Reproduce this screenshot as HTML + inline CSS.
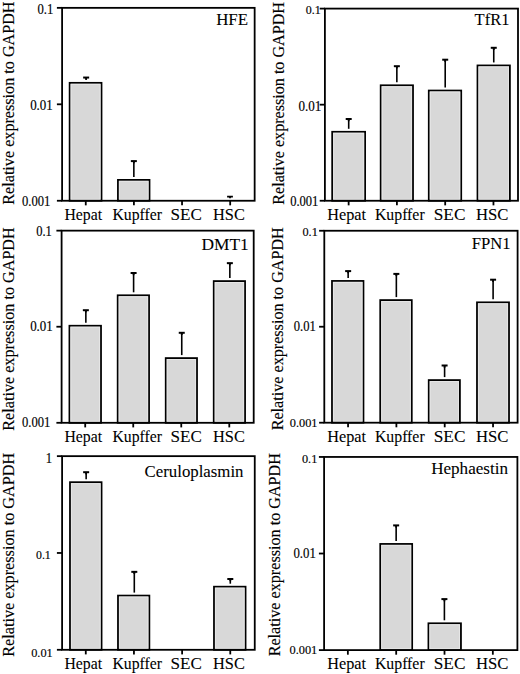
<!DOCTYPE html>
<html><head><meta charset="utf-8"><style>
html,body{margin:0;padding:0;background:#fff;}
svg{display:block;}
text{font-family:'Liberation Serif', serif;fill:#000;stroke:#000;stroke-width:0.08px;}
text.tk{stroke-width:0.15px;}
text.yl{stroke-width:0.15px;}
</style></head><body>
<svg width="520" height="674" viewBox="0 0 520 674">
<rect width="520" height="674" fill="#fff"/>
<rect x="69.65" y="82.85" width="31.85" height="117.90" fill="#d8d8d8" stroke="#000" stroke-width="1.8"/>
<rect x="71.10" y="84.30" width="28.95" height="115.00" fill="none" stroke="#e6e6e6" stroke-width="1"/>
<path d="M86.15 79.85V77.55" stroke="#000" stroke-width="1.6" fill="none"/>
<path d="M83.15 77.55H89.15" stroke="#000" stroke-width="2.0" fill="none"/>
<path d="M86.15 77.55V79.75" stroke="#000" stroke-width="1.8" fill="none"/>
<rect x="117.95" y="179.9" width="31.55" height="20.85" fill="#d8d8d8" stroke="#000" stroke-width="1.8"/>
<rect x="119.40" y="181.35" width="28.65" height="17.95" fill="none" stroke="#e6e6e6" stroke-width="1"/>
<path d="M133.85 176.90V161.1" stroke="#000" stroke-width="1.6" fill="none"/>
<path d="M130.85 161.1H136.85" stroke="#000" stroke-width="2.0" fill="none"/>
<path d="M133.85 161.1V163.30" stroke="#000" stroke-width="1.8" fill="none"/>
<path d="M230.0 198.20V196.6M227.10 196.6H232.90" stroke="#000" stroke-width="1.8" fill="none"/>
<rect x="62.1" y="7.85" width="192.55" height="192.90" fill="none" stroke="#000" stroke-width="1.8"/>
<path d="M56.90 7.85H62.1" stroke="#000" stroke-width="1.8"/>
<path d="M56.90 104.30H62.1" stroke="#000" stroke-width="1.8"/>
<path d="M56.90 200.75H62.1" stroke="#000" stroke-width="1.8"/>
<path d="M85.77 200.75V205.35" stroke="#000" stroke-width="1.8"/>
<path d="M133.91 200.75V205.35" stroke="#000" stroke-width="1.8"/>
<path d="M182.04 200.75V205.35" stroke="#000" stroke-width="1.8"/>
<path d="M230.18 200.75V205.35" stroke="#000" stroke-width="1.8"/>
<rect x="332.2" y="131.8" width="32.90" height="68.95" fill="#d8d8d8" stroke="#000" stroke-width="1.8"/>
<rect x="333.65" y="133.25" width="30.00" height="66.05" fill="none" stroke="#e6e6e6" stroke-width="1"/>
<path d="M348.70 128.80V119.0" stroke="#000" stroke-width="1.6" fill="none"/>
<path d="M345.70 119.0H351.70" stroke="#000" stroke-width="2.0" fill="none"/>
<path d="M348.70 119.0V121.20" stroke="#000" stroke-width="1.8" fill="none"/>
<rect x="380.7" y="85.3" width="32.30" height="115.45" fill="#d8d8d8" stroke="#000" stroke-width="1.8"/>
<rect x="382.15" y="86.75" width="29.40" height="112.55" fill="none" stroke="#e6e6e6" stroke-width="1"/>
<path d="M396.85 82.30V66.2" stroke="#000" stroke-width="1.6" fill="none"/>
<path d="M393.85 66.2H399.85" stroke="#000" stroke-width="2.0" fill="none"/>
<path d="M396.85 66.2V68.40" stroke="#000" stroke-width="1.8" fill="none"/>
<rect x="428.8" y="90.55" width="32.40" height="110.20" fill="#d8d8d8" stroke="#000" stroke-width="1.8"/>
<rect x="430.25" y="92.00" width="29.50" height="107.30" fill="none" stroke="#e6e6e6" stroke-width="1"/>
<path d="M445.20 87.55V59.7" stroke="#000" stroke-width="1.6" fill="none"/>
<path d="M442.20 59.7H448.20" stroke="#000" stroke-width="2.0" fill="none"/>
<path d="M445.20 59.7V61.90" stroke="#000" stroke-width="1.8" fill="none"/>
<rect x="477.5" y="65.45" width="32.40" height="135.30" fill="#d8d8d8" stroke="#000" stroke-width="1.8"/>
<rect x="478.95" y="66.90" width="29.50" height="132.40" fill="none" stroke="#e6e6e6" stroke-width="1"/>
<path d="M493.75 62.45V47.8" stroke="#000" stroke-width="1.6" fill="none"/>
<path d="M490.75 47.8H496.75" stroke="#000" stroke-width="2.0" fill="none"/>
<path d="M493.75 47.8V50.00" stroke="#000" stroke-width="1.8" fill="none"/>
<rect x="324.9" y="8.6" width="193.10" height="192.15" fill="none" stroke="#000" stroke-width="1.8"/>
<path d="M319.70 8.60H324.9" stroke="#000" stroke-width="1.8"/>
<path d="M319.70 104.67H324.9" stroke="#000" stroke-width="1.8"/>
<path d="M319.70 200.75H324.9" stroke="#000" stroke-width="1.8"/>
<path d="M348.64 200.75V205.35" stroke="#000" stroke-width="1.8"/>
<path d="M396.91 200.75V205.35" stroke="#000" stroke-width="1.8"/>
<path d="M445.19 200.75V205.35" stroke="#000" stroke-width="1.8"/>
<path d="M493.46 200.75V205.35" stroke="#000" stroke-width="1.8"/>
<rect x="69.45" y="325.75" width="31.55" height="97.05" fill="#d8d8d8" stroke="#000" stroke-width="1.8"/>
<rect x="70.90" y="327.20" width="28.65" height="94.15" fill="none" stroke="#e6e6e6" stroke-width="1"/>
<path d="M85.85 322.75V310.2" stroke="#000" stroke-width="1.6" fill="none"/>
<path d="M82.85 310.2H88.85" stroke="#000" stroke-width="2.0" fill="none"/>
<path d="M85.85 310.2V312.40" stroke="#000" stroke-width="1.8" fill="none"/>
<rect x="117.7" y="295.3" width="31.35" height="127.50" fill="#d8d8d8" stroke="#000" stroke-width="1.8"/>
<rect x="119.15" y="296.75" width="28.45" height="124.60" fill="none" stroke="#e6e6e6" stroke-width="1"/>
<path d="M133.60 292.30V273.0" stroke="#000" stroke-width="1.6" fill="none"/>
<path d="M130.60 273.0H136.60" stroke="#000" stroke-width="2.0" fill="none"/>
<path d="M133.60 273.0V275.20" stroke="#000" stroke-width="1.8" fill="none"/>
<rect x="165.75" y="358.1" width="31.25" height="64.70" fill="#d8d8d8" stroke="#000" stroke-width="1.8"/>
<rect x="167.20" y="359.55" width="28.35" height="61.80" fill="none" stroke="#e6e6e6" stroke-width="1"/>
<path d="M181.75 355.10V332.8" stroke="#000" stroke-width="1.6" fill="none"/>
<path d="M178.75 332.8H184.75" stroke="#000" stroke-width="2.0" fill="none"/>
<path d="M181.75 332.8V335.00" stroke="#000" stroke-width="1.8" fill="none"/>
<rect x="213.75" y="281.1" width="31.30" height="141.70" fill="#d8d8d8" stroke="#000" stroke-width="1.8"/>
<rect x="215.20" y="282.55" width="28.40" height="138.80" fill="none" stroke="#e6e6e6" stroke-width="1"/>
<path d="M229.85 278.10V263.15" stroke="#000" stroke-width="1.6" fill="none"/>
<path d="M226.85 263.15H232.85" stroke="#000" stroke-width="2.0" fill="none"/>
<path d="M229.85 263.15V265.35" stroke="#000" stroke-width="1.8" fill="none"/>
<rect x="61.6" y="230.65" width="192.10" height="192.15" fill="none" stroke="#000" stroke-width="1.8"/>
<path d="M56.40 230.65H61.6" stroke="#000" stroke-width="1.8"/>
<path d="M56.40 326.73H61.6" stroke="#000" stroke-width="1.8"/>
<path d="M56.40 422.80H61.6" stroke="#000" stroke-width="1.8"/>
<path d="M85.21 422.8V427.40" stroke="#000" stroke-width="1.8"/>
<path d="M133.24 422.8V427.40" stroke="#000" stroke-width="1.8"/>
<path d="M181.26 422.8V427.40" stroke="#000" stroke-width="1.8"/>
<path d="M229.29 422.8V427.40" stroke="#000" stroke-width="1.8"/>
<rect x="332.0" y="280.95" width="31.45" height="141.75" fill="#d8d8d8" stroke="#000" stroke-width="1.8"/>
<rect x="333.45" y="282.40" width="28.55" height="138.85" fill="none" stroke="#e6e6e6" stroke-width="1"/>
<path d="M348.15 277.95V271.1" stroke="#000" stroke-width="1.6" fill="none"/>
<path d="M345.15 271.1H351.15" stroke="#000" stroke-width="2.0" fill="none"/>
<path d="M348.15 271.1V273.30" stroke="#000" stroke-width="1.8" fill="none"/>
<rect x="380.25" y="300.1" width="31.50" height="122.60" fill="#d8d8d8" stroke="#000" stroke-width="1.8"/>
<rect x="381.70" y="301.55" width="28.60" height="119.70" fill="none" stroke="#e6e6e6" stroke-width="1"/>
<path d="M396.35 297.10V273.9" stroke="#000" stroke-width="1.6" fill="none"/>
<path d="M393.35 273.9H399.35" stroke="#000" stroke-width="2.0" fill="none"/>
<path d="M396.35 273.9V276.10" stroke="#000" stroke-width="1.8" fill="none"/>
<rect x="428.75" y="380.1" width="31.15" height="42.60" fill="#d8d8d8" stroke="#000" stroke-width="1.8"/>
<rect x="430.20" y="381.55" width="28.25" height="39.70" fill="none" stroke="#e6e6e6" stroke-width="1"/>
<path d="M444.60 377.10V365.5" stroke="#000" stroke-width="1.6" fill="none"/>
<path d="M441.60 365.5H447.60" stroke="#000" stroke-width="2.0" fill="none"/>
<path d="M444.60 365.5V367.70" stroke="#000" stroke-width="1.8" fill="none"/>
<rect x="477.0" y="302.35" width="32.00" height="120.35" fill="#d8d8d8" stroke="#000" stroke-width="1.8"/>
<rect x="478.45" y="303.80" width="29.10" height="117.45" fill="none" stroke="#e6e6e6" stroke-width="1"/>
<path d="M493.10 299.35V279.7" stroke="#000" stroke-width="1.6" fill="none"/>
<path d="M490.10 279.7H496.10" stroke="#000" stroke-width="2.0" fill="none"/>
<path d="M493.10 279.7V281.90" stroke="#000" stroke-width="1.8" fill="none"/>
<rect x="324.3" y="230.75" width="193.30" height="191.95" fill="none" stroke="#000" stroke-width="1.8"/>
<path d="M319.10 230.75H324.3" stroke="#000" stroke-width="1.8"/>
<path d="M319.10 326.73H324.3" stroke="#000" stroke-width="1.8"/>
<path d="M319.10 422.70H324.3" stroke="#000" stroke-width="1.8"/>
<path d="M348.06 422.7V427.30" stroke="#000" stroke-width="1.8"/>
<path d="M396.39 422.7V427.30" stroke="#000" stroke-width="1.8"/>
<path d="M444.71 422.7V427.30" stroke="#000" stroke-width="1.8"/>
<path d="M493.04 422.7V427.30" stroke="#000" stroke-width="1.8"/>
<rect x="70.0" y="482.2" width="31.55" height="167.60" fill="#d8d8d8" stroke="#000" stroke-width="1.8"/>
<rect x="71.45" y="483.65" width="28.65" height="164.70" fill="none" stroke="#e6e6e6" stroke-width="1"/>
<path d="M86.15 479.20V472.2" stroke="#000" stroke-width="1.6" fill="none"/>
<path d="M83.15 472.2H89.15" stroke="#000" stroke-width="2.0" fill="none"/>
<path d="M86.15 472.2V474.40" stroke="#000" stroke-width="1.8" fill="none"/>
<rect x="118.0" y="595.6" width="31.35" height="54.20" fill="#d8d8d8" stroke="#000" stroke-width="1.8"/>
<rect x="119.45" y="597.05" width="28.45" height="51.30" fill="none" stroke="#e6e6e6" stroke-width="1"/>
<path d="M134.30 592.60V571.85" stroke="#000" stroke-width="1.6" fill="none"/>
<path d="M131.30 571.85H137.30" stroke="#000" stroke-width="2.0" fill="none"/>
<path d="M134.30 571.85V574.05" stroke="#000" stroke-width="1.8" fill="none"/>
<rect x="214.0" y="586.7" width="31.55" height="63.10" fill="#d8d8d8" stroke="#000" stroke-width="1.8"/>
<rect x="215.45" y="588.15" width="28.65" height="60.20" fill="none" stroke="#e6e6e6" stroke-width="1"/>
<path d="M230.30 583.70V579.0" stroke="#000" stroke-width="1.6" fill="none"/>
<path d="M227.30 579.0H233.30" stroke="#000" stroke-width="2.0" fill="none"/>
<path d="M230.30 579.0V581.20" stroke="#000" stroke-width="1.8" fill="none"/>
<rect x="62.1" y="456.15" width="192.65" height="193.65" fill="none" stroke="#000" stroke-width="1.8"/>
<path d="M56.90 456.15H62.1" stroke="#000" stroke-width="1.8"/>
<path d="M56.90 552.97H62.1" stroke="#000" stroke-width="1.8"/>
<path d="M56.90 649.80H62.1" stroke="#000" stroke-width="1.8"/>
<path d="M85.78 649.8V654.40" stroke="#000" stroke-width="1.8"/>
<path d="M133.94 649.8V654.40" stroke="#000" stroke-width="1.8"/>
<path d="M182.11 649.8V654.40" stroke="#000" stroke-width="1.8"/>
<path d="M230.27 649.8V654.40" stroke="#000" stroke-width="1.8"/>
<rect x="380.25" y="543.95" width="31.90" height="106.15" fill="#d8d8d8" stroke="#000" stroke-width="1.8"/>
<rect x="381.70" y="545.40" width="29.00" height="103.25" fill="none" stroke="#e6e6e6" stroke-width="1"/>
<path d="M396.15 540.95V525.4" stroke="#000" stroke-width="1.6" fill="none"/>
<path d="M393.15 525.4H399.15" stroke="#000" stroke-width="2.0" fill="none"/>
<path d="M396.15 525.4V527.60" stroke="#000" stroke-width="1.8" fill="none"/>
<rect x="428.45" y="623.3" width="32.50" height="26.80" fill="#d8d8d8" stroke="#000" stroke-width="1.8"/>
<rect x="429.90" y="624.75" width="29.60" height="23.90" fill="none" stroke="#e6e6e6" stroke-width="1"/>
<path d="M444.40 620.30V599.1" stroke="#000" stroke-width="1.6" fill="none"/>
<path d="M441.40 599.1H447.40" stroke="#000" stroke-width="2.0" fill="none"/>
<path d="M444.40 599.1V601.30" stroke="#000" stroke-width="1.8" fill="none"/>
<rect x="324.1" y="456.95" width="193.30" height="193.15" fill="none" stroke="#000" stroke-width="1.8"/>
<path d="M318.90 456.95H324.1" stroke="#000" stroke-width="1.8"/>
<path d="M318.90 553.52H324.1" stroke="#000" stroke-width="1.8"/>
<path d="M318.90 650.10H324.1" stroke="#000" stroke-width="1.8"/>
<path d="M347.86 650.1V654.70" stroke="#000" stroke-width="1.8"/>
<path d="M396.19 650.1V654.70" stroke="#000" stroke-width="1.8"/>
<path d="M444.51 650.1V654.70" stroke="#000" stroke-width="1.8"/>
<path d="M492.84 650.1V654.70" stroke="#000" stroke-width="1.8"/>
<text class="tk" transform="translate(37.44,14.39) scale(1,1.08)" font-size="12.70">0.1</text>
<text class="tk" transform="translate(30.13,110.48) scale(1,1.08)" font-size="12.97">0.01</text>
<text class="tk" transform="translate(21.95,205.51) scale(1,1.08)" font-size="12.60">0.001</text>
<text class="tk" transform="translate(305.77,14.15) scale(1,1.08)" font-size="12.00">0.1</text>
<text class="tk" transform="translate(298.43,110.52) scale(1,1.08)" font-size="13.09">0.01</text>
<text class="tk" transform="translate(290.15,205.57) scale(1,1.08)" font-size="12.51">0.001</text>
<text class="tk" transform="translate(36.15,236.48) scale(1,1.08)" font-size="12.52">0.1</text>
<text class="tk" transform="translate(30.13,330.73) scale(1,1.08)" font-size="12.97">0.01</text>
<text class="tk" transform="translate(21.95,427.01) scale(1,1.08)" font-size="12.60">0.001</text>
<text class="tk" transform="translate(302.46,236.39) scale(1,1.08)" font-size="12.26">0.1</text>
<text class="tk" transform="translate(293.75,331.11) scale(1,1.08)" font-size="12.61">0.01</text>
<text class="tk" transform="translate(289.76,427.01) scale(1,1.08)" font-size="12.33">0.001</text>
<text class="tk" transform="translate(45.66,463.49) scale(1,1.08)" font-size="12.60">1</text>
<text class="tk" transform="translate(35.98,558.84) scale(1,1.08)" font-size="11.83">0.1</text>
<text class="tk" transform="translate(31.16,656.67) scale(1,1.08)" font-size="12.36">0.01</text>
<text class="tk" transform="translate(301.96,462.64) scale(1,1.08)" font-size="12.26">0.1</text>
<text class="tk" transform="translate(293.44,557.72) scale(1,1.08)" font-size="12.79">0.01</text>
<text class="tk" transform="translate(289.46,654.13) scale(1,1.08)" font-size="12.37">0.001</text>
<text x="216.14" y="24.60" font-size="16.91">HFE</text>
<text x="474.62" y="24.60" font-size="16.55">TfR1</text>
<text x="201.43" y="249.60" font-size="17.38">DMT1</text>
<text x="471.85" y="248.90" font-size="16.61">FPN1</text>
<text x="144.58" y="476.60" font-size="16.81">Ceruloplasmin</text>
<text x="431.14" y="474.30" font-size="17.10">Hephaestin</text>
<text x="64.48" y="219.80" font-size="15.79">Hepat</text>
<text x="112.48" y="219.80" font-size="15.72">Kupffer</text>
<text x="170.45" y="219.80" font-size="17.13">SEC</text>
<text x="212.96" y="219.80" font-size="16.40">HSC</text>
<text x="327.26" y="219.80" font-size="16.26">Hepat</text>
<text x="374.98" y="219.80" font-size="15.79">Kupffer</text>
<text x="433.74" y="219.80" font-size="17.31">SEC</text>
<text x="475.95" y="219.80" font-size="16.72">HSC</text>
<text x="64.48" y="442.30" font-size="15.79">Hepat</text>
<text x="112.48" y="442.30" font-size="15.72">Kupffer</text>
<text x="170.45" y="442.30" font-size="17.13">SEC</text>
<text x="212.96" y="442.30" font-size="16.40">HSC</text>
<text x="327.26" y="442.30" font-size="16.26">Hepat</text>
<text x="374.98" y="442.30" font-size="15.79">Kupffer</text>
<text x="433.74" y="442.30" font-size="17.31">SEC</text>
<text x="475.95" y="442.30" font-size="16.72">HSC</text>
<text x="64.48" y="669.30" font-size="15.79">Hepat</text>
<text x="112.48" y="669.30" font-size="15.72">Kupffer</text>
<text x="170.45" y="669.30" font-size="17.13">SEC</text>
<text x="212.96" y="669.30" font-size="16.40">HSC</text>
<text x="327.26" y="669.30" font-size="16.26">Hepat</text>
<text x="374.98" y="669.30" font-size="15.79">Kupffer</text>
<text x="433.74" y="669.30" font-size="17.31">SEC</text>
<text x="475.95" y="669.30" font-size="16.72">HSC</text>
<text class="yl" transform="translate(14.10,204.73) rotate(-90)" font-size="16.16">Relative expression to GAPDH</text>
<text class="yl" transform="translate(284.10,204.73) rotate(-90)" font-size="16.12">Relative expression to GAPDH</text>
<text class="yl" transform="translate(14.10,430.74) rotate(-90)" font-size="16.18">Relative expression to GAPDH</text>
<text class="yl" transform="translate(283.20,430.33) rotate(-90)" font-size="16.15">Relative expression to GAPDH</text>
<text class="yl" transform="translate(13.80,656.74) rotate(-90)" font-size="16.22">Relative expression to GAPDH</text>
<text class="yl" transform="translate(279.90,656.33) rotate(-90)" font-size="16.16">Relative expression to GAPDH</text>
</svg>
</body></html>
